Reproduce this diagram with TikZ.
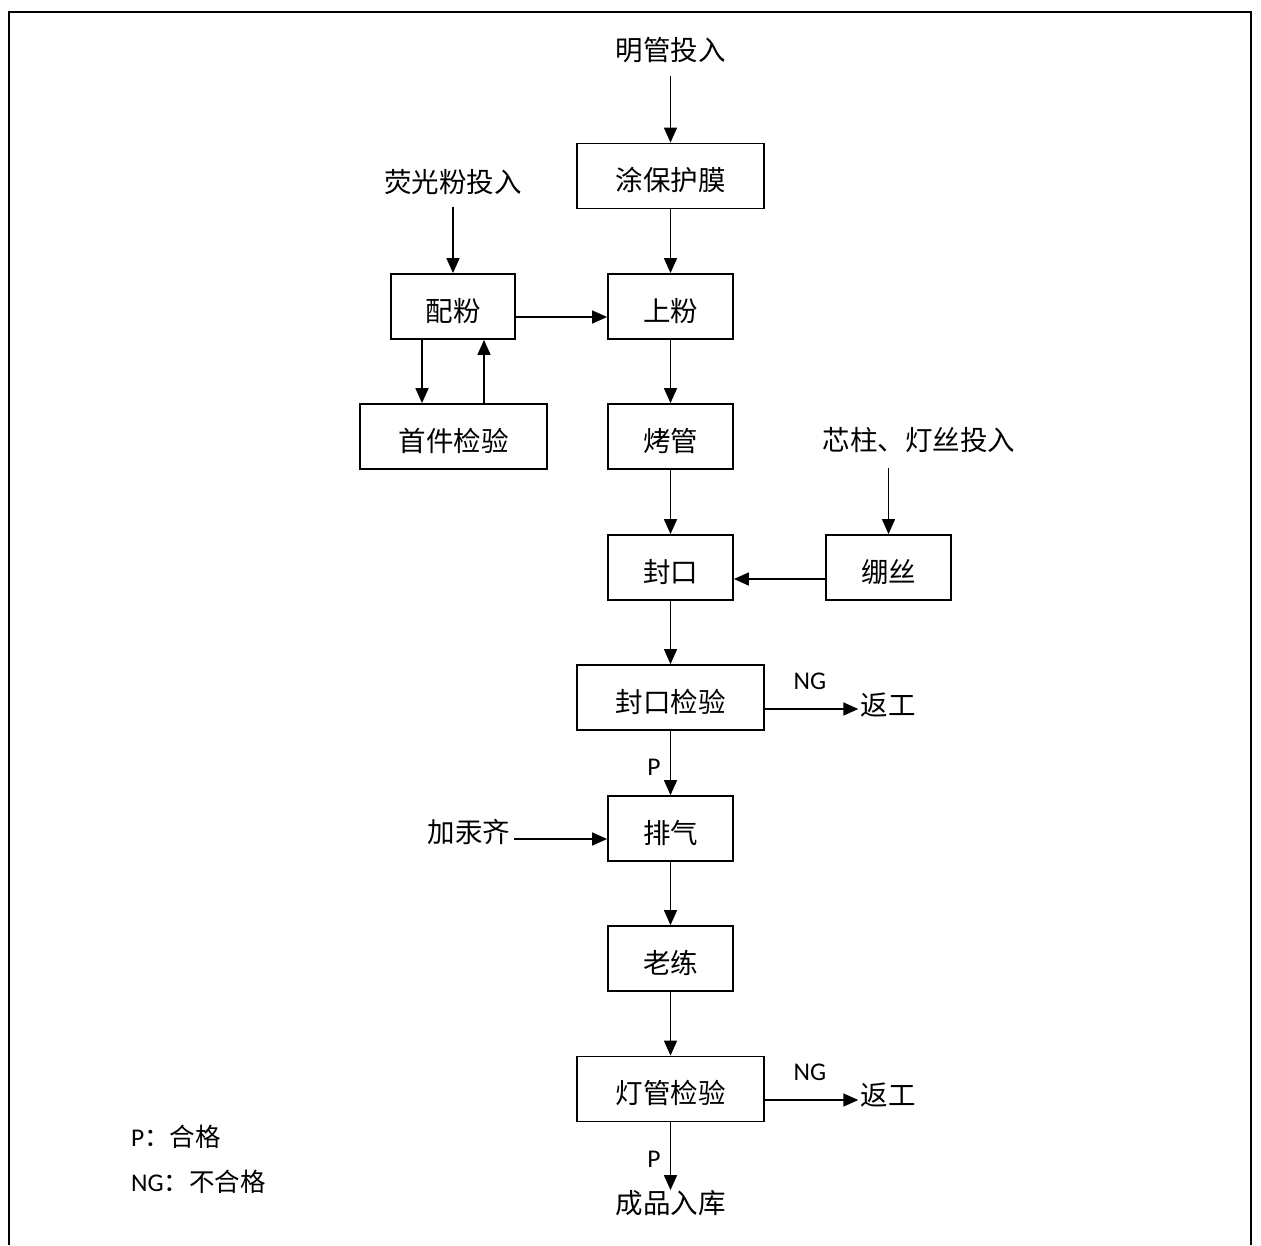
\documentclass[tikz,border=0pt]{standalone}
\usepackage{fontspec}
\setmainfont{Carlito}
\newfontfamily\cjk{Noto Sans CJK SC}
\usetikzlibrary{arrows.meta}
\begin{document}
\begin{tikzpicture}[x=1pt,y=-1pt,
 box/.style={draw,line width=1.8pt,minimum height=65pt,inner sep=0pt,text height=29pt,text depth=0pt,font=\cjk\fontsize{27.5}{30}\selectfont},
 lbl/.style={inner sep=0pt,font=\cjk\fontsize{27.5}{30}\selectfont},
 lat/.style={inner sep=0pt,font=\fontsize{25.5}{28}\selectfont},
 arr/.style={line width=1.6pt,-{Triangle[length=15pt,width=13pt]}}]
\useasboundingbox (0,0) rectangle (1261,1245);
\draw[line width=2pt] (9,1245) -- (9,12) -- (1251,12) -- (1251,1245);

\node[lbl,inner ysep=13pt] (mg) at (670.5,50) {明管投入};
\node[box,minimum width=187pt] (tbh) at (670.5,176) {涂保护膜};
\node[lbl,inner ysep=12pt] (yg) at (453,182) {荧光粉投入};
\node[box,minimum width=124pt] (pf) at (453,306.5) {配粉};
\node[box,minimum width=125pt] (sf) at (670.5,306.5) {上粉};
\node[box,minimum width=187pt] (sj) at (453.5,436.5) {首件检验};
\node[box,minimum width=125pt] (kg) at (670.5,436.5) {烤管};
\node[lbl,inner ysep=15pt] (xz) at (919,440) {芯柱、灯丝投入};
\node[box,minimum width=125pt] (fk) at (670.5,567.5) {封口};
\node[box,minimum width=125pt] (bs) at (888.5,567.5) {绷丝};
\node[box,minimum width=187pt] (fkj) at (670.5,697.5) {封口检验};
\node[lat] (ng1) at (810,681) {NG};
\node[lbl,inner xsep=2pt] (fg1) at (888,705) {返工};
\node[lat] (p1) at (654,767) {P};
\node[lbl,inner xsep=4pt] (jg) at (469,832) {加汞齐};
\node[box,minimum width=125pt] (pq) at (670.5,828.5) {排气};
\node[box,minimum width=125pt] (ll) at (670.5,958.5) {老练};
\node[box,minimum width=187pt] (dg) at (670.5,1089) {灯管检验};
\node[lat] (ng2) at (810,1072) {NG};
\node[lbl,inner xsep=2pt] (fg2) at (888,1095) {返工};
\node[lat] (p2) at (654,1159) {P};
\node[lbl] (cp) at (670.5,1203) {成品入库};
\node[lat,anchor=west] (lg1) at (131,1137) {P{\cjk：合格}};
\node[lat,anchor=west] (lg2) at (131,1182) {NG{\cjk：不合格}};

\draw[arr] (mg.south) -- (tbh.north);
\draw[arr] (tbh.south) -- (sf.north);
\draw[arr] (yg.south) -- (pf.north);
\draw[arr] ([yshift=-10.5pt]pf.east) -- ([yshift=-10.5pt]sf.west);
\draw[arr] ([xshift=-31pt]pf.south) -- ([xshift=-31.5pt]sj.north);
\draw[arr] ([xshift=30.5pt]sj.north) -- ([xshift=31pt]pf.south);
\draw[arr] (sf.south) -- (kg.north);
\draw[arr] (kg.south) -- (fk.north);
\draw[arr] (bs.north |- xz.south) -- (bs.north);
\draw[arr] ([yshift=-11.5pt]bs.west) -- ([yshift=-11.5pt]fk.east);
\draw[arr] (fk.south) -- (fkj.north);
\draw[arr] ([yshift=-11.5pt]fkj.east) -- ([yshift=-4pt]fg1.west);
\draw[arr] (fkj.south) -- (pq.north);
\draw[arr] ([yshift=-7pt]jg.east) -- ([yshift=-10.5pt]pq.west);
\draw[arr] (pq.south) -- (ll.north);
\draw[arr] (ll.south) -- (dg.north);
\draw[arr] ([yshift=-11pt]dg.east) -- ([yshift=-5pt]fg2.west);
\draw[arr] (dg.south) -- (cp.north);
\end{tikzpicture}
\end{document}
